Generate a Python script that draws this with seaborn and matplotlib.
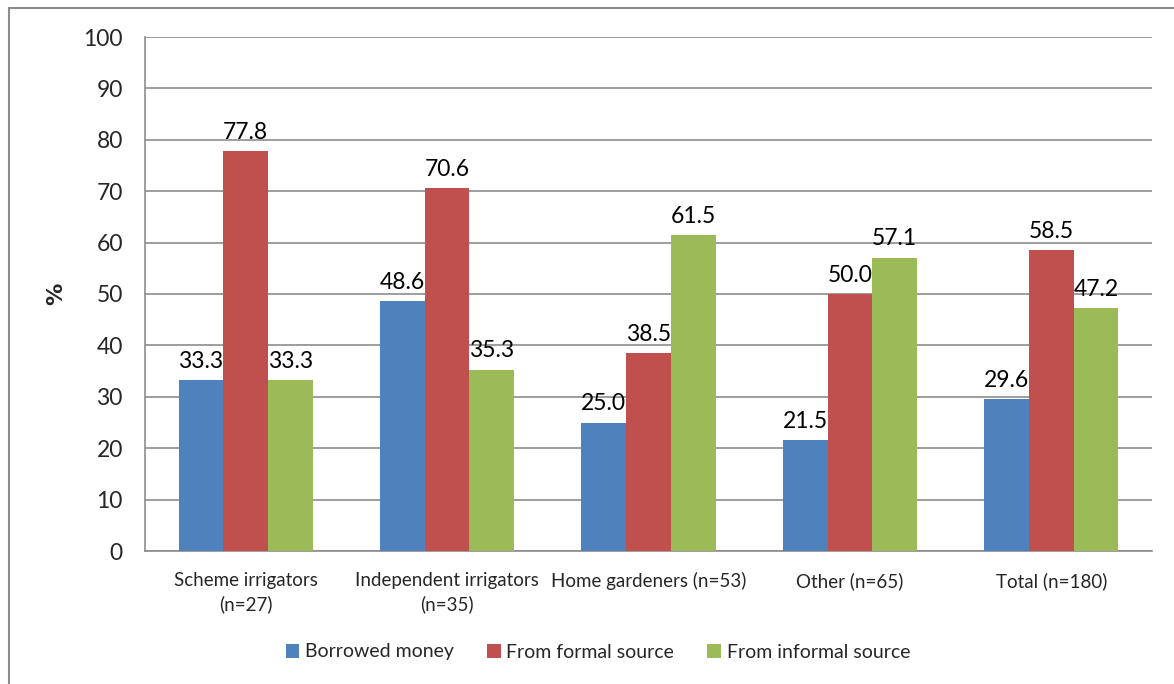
import matplotlib
matplotlib.use("Agg")
import matplotlib.pyplot as plt
from matplotlib.lines import Line2D
from matplotlib.ticker import FixedLocator, NullFormatter
import seaborn as sns
import pandas as pd

categories = ["Scheme irrigators\n(n=27)", "Independent irrigators\n(n=35)",
              "Home gardeners (n=53)", "Other (n=65)", "Total (n=180)"]
series = ["Borrowed money", "From formal source", "From informal source"]
borrowed = [33.3, 48.6, 25.0, 21.5, 29.6]
formal = [77.8, 70.6, 38.5, 50.0, 58.5]
informal = [33.3, 35.3, 61.5, 57.1, 47.2]
yticks = list(range(0, 101, 10))
colors = ["#4F81BD", "#C0504D", "#9BBB59"]

rows = []
for name, vals in zip(series, [borrowed, formal, informal]):
    for cat, v in zip(categories, vals):
        rows.append({"category": cat, "series": name, "value": v})
df = pd.DataFrame(rows)

sns.set_style("white")
plt.rcParams["font.family"] = ["Lato", "DejaVu Sans"]

fig = plt.figure(figsize=(11.74, 6.84), dpi=100)
ax = fig.add_axes([145 / 1174, 1 - 551 / 684, (1152 - 145) / 1174, (551 - 37) / 684])

sns.barplot(data=df, x="category", y="value", hue="series", order=categories,
            hue_order=series, palette=colors, width=0.667, saturation=1,
            edgecolor="none", linewidth=0, ax=ax, legend=True, zorder=3)

for container in ax.containers:
    ax.bar_label(container, fmt="%.1f", padding=6, fontsize=16.5, color="black")

ax.set_ylim(0, 100)
ax.set_xlim(-0.5, len(categories) - 0.5)
ax.set_yticks(yticks)
ax.set_yticklabels([str(t) for t in yticks], fontsize=16.5)
ax.yaxis.grid(True, color="#8C8C8C", linewidth=1.2, zorder=0)
ax.set_axisbelow(True)

ax.tick_params(axis="x", which="major", length=0, labelsize=13.5, pad=15)
for lbl in ax.get_xticklabels():
    lbl.set_linespacing(1.4)
ax.xaxis.set_minor_locator(FixedLocator([i - 0.5 for i in range(len(categories) + 1)]))
ax.xaxis.set_minor_formatter(NullFormatter())
ax.tick_params(axis="x", which="minor", length=6, width=1.2, color="#8C8C8C", direction="out")
ax.tick_params(axis="y", length=6, width=1.2, color="#8C8C8C", direction="out", pad=10)

for s in ["top", "right"]:
    ax.spines[s].set_visible(False)
for s in ["left", "bottom"]:
    ax.spines[s].set_color("#8C8C8C")
    ax.spines[s].set_linewidth(1.2)

ax.set_xlabel("")
ax.set_ylabel("%", fontsize=16, fontweight="bold", labelpad=12,
              family=["DejaVu Sans"])

handles, labels = ax.get_legend_handles_labels()
ax.get_legend().remove()
fig.legend(handles, labels, loc="center", bbox_to_anchor=(598 / 1174, 1 - 652 / 684),
           ncol=3, frameon=False, fontsize=14, handlelength=0.7, handleheight=0.7,
           handletextpad=0.3, columnspacing=1.7)

# outer chart frame (left and top edges)
fig.add_artist(Line2D([9 / 1174, 9 / 1174], [0, 1 - 8 / 684], transform=fig.transFigure,
                      color="#8C8C8C", linewidth=1.5))
fig.add_artist(Line2D([9 / 1174, 1], [1 - 8 / 684, 1 - 8 / 684], transform=fig.transFigure,
                      color="#8C8C8C", linewidth=1.5))

fig.savefig("out.png", dpi=100)
